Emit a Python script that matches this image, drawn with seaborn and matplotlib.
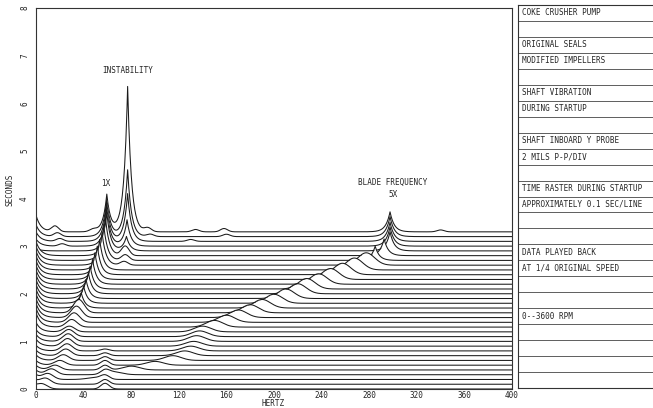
import numpy as np
import pandas as pd
import matplotlib
matplotlib.use("Agg")
import matplotlib.pyplot as plt
import seaborn as sns

# one spectrum line every 0.1 s during startup (front line = 0 s)
times = [0.0, 0.1, 0.2, 0.3, 0.4, 0.5, 0.6, 0.7, 0.8, 0.9, 1.0, 1.1, 1.2, 1.3, 1.4, 1.5, 1.6,
         1.7, 1.8, 1.9, 2.0, 2.1, 2.2, 2.3, 2.4, 2.5, 2.6, 2.7, 2.8, 2.9, 3.0, 3.1, 3.2, 3.3]

# running speed (1X) of each line, Hz
speed_hz = [5, 8, 10, 13, 16, 20, 23, 25, 26, 26.5, 27, 27.5, 28, 30, 32, 34, 36,
            38, 40, 42, 44, 45.5, 47.5, 49.5, 51.5, 53.5, 55.5, 57, 58.5, 59.5, 59.5, 59.5, 59.5, 59.5]

# peak heights (seconds of vertical scale)
amp_1x = [0.10, 0.12, 0.12, 0.12, 0.10, 0.10, 0.12, 0.14, 0.15, 0.16, 0.16, 0.15, 0.12, 0.16, 0.20, 0.24, 0.28,
          0.32, 0.36, 0.40, 0.44, 0.48, 0.52, 0.56, 0.60, 0.64, 0.68, 0.72, 0.76, 0.80, 0.80, 0.80, 0.78, 0.78]
amp_5x = [0.0, 0.0, 0.04, 0.06, 0.08, 0.08, 0.10, 0.10, 0.10, 0.10, 0.12, 0.12, 0.12, 0.14, 0.15, 0.16, 0.17,
          0.18, 0.19, 0.20, 0.21, 0.22, 0.22, 0.23, 0.24, 0.25, 0.26, 0.30, 0.35, 0.40, 0.40, 0.40, 0.42, 0.42]
inst_hz = [77] * 26 + [74, 75, 75, 76, 76.5, 77, 77, 77]
amp_inst = [0.0] * 26 + [0.08, 0.12, 0.20, 0.30, 0.55, 1.0, 1.4, 3.05]
amp_low = [0.05, 0.08, 0.10, 0.10, 0.10, 0.10, 0.12, 0.12, 0.12, 0.15, 0.15, 0.15, 0.20, 0.30, 0.30, 0.30, 0.30,
           0.30, 0.30, 0.30, 0.30, 0.30, 0.30, 0.30, 0.30, 0.30, 0.30, 0.30, 0.30, 0.05, 0.15, 0.20, 0.25, 0.35]
amp_58 = [0.12, 0.10, 0.08, 0.08, 0.10, 0.10, 0.08, 0.06, 0.04] + [0.0] * 25

# small wiggles on the last lines
bump_line = [33, 33, 33, 33, 33, 33, 32, 32, 32, 31, 31, 30]
bump_hz = [16, 48, 94, 134, 158, 340, 18, 96, 160, 20, 130, 22]
bump_amp = [0.12, 0.05, 0.08, 0.05, 0.07, 0.04, 0.08, 0.05, 0.05, 0.06, 0.04, 0.05]

panel_rows = ["COKE CRUSHER PUMP", "", "ORIGINAL SEALS", "MODIFIED IMPELLERS", "",
              "SHAFT VIBRATION", "DURING STARTUP", "", "SHAFT INBOARD Y PROBE", "2 MILS P-P/DIV", "",
              "TIME RASTER DURING STARTUP", "APPROXIMATELY 0.1 SEC/LINE", "", "",
              "DATA PLAYED BACK", "AT 1/4 ORIGINAL SPEED", "", "", "0--3600 RPM", "", "", "", ""]

freq = np.arange(0, 400.5, 0.5)


def spike(f0, h, w):
    # sharp peak for the big lines, rounded hump for the small ones
    if h >= 0.3:
        return h * np.exp(-np.abs(freq - f0) / w)
    return h * np.exp(-0.5 * ((freq - f0) / w) ** 2)


frames = []
for i, t in enumerate(times):
    y = np.full_like(freq, t)
    y += amp_low[i] * np.exp(-freq / 4.0)
    y += spike(speed_hz[i], amp_1x[i], 4.5 if amp_1x[i] < 0.3 else 3.2)
    y += spike(5 * speed_hz[i], amp_5x[i], 7.0 if i < 27 else 3.5)
    y += spike(inst_hz[i], amp_inst[i], 3.2)
    y += spike(58, amp_58[i], 3.5)
    for ln, bh, ba in zip(bump_line, bump_hz, bump_amp):
        if ln == i:
            y += spike(bh, ba, 3.0)
    frames.append(pd.DataFrame({"hz": freq, "sec": y, "line": i}))
df = pd.concat(frames, ignore_index=True)

sns.set_style("white")
plt.rcParams["font.family"] = ["DejaVu Sans Mono"]

fig = plt.figure(figsize=(6.53, 4.08), dpi=100)
ax = fig.add_axes([36 / 653, 19 / 408, 476 / 653, 381 / 408])

# hidden line removal: front lines drawn on top with white underneath
n = len(times)
for i, grp in df.groupby("line"):
    z = 10 + 2 * (n - i)
    ax.fill_between(grp["hz"], -1, grp["sec"], color="white", lw=0, zorder=z)
    sns.lineplot(data=grp, x="hz", y="sec", ax=ax, color="#1a1a1a", lw=0.75,
                 zorder=z + 1, estimator=None, sort=False)

ax.set_xlim(0, 400)
ax.set_ylim(0, 8)
ax.set_xticks(range(0, 401, 40))
ax.set_yticks(range(0, 9))
ax.set_yticklabels([str(v) for v in range(0, 9)], rotation=90, va="center")
ax.tick_params(length=0, labelsize=5.5, colors="#222222")
ax.tick_params(axis="y", pad=5)
ax.tick_params(axis="x", pad=1.5)
ax.set_xlabel("")
ax.set_ylabel("")
for s in ax.spines.values():
    s.set_color("#333333")
    s.set_linewidth(0.8)
    s.set_zorder(200)

fig.text(10 / 653, 1 - 190 / 408, "SECONDS", rotation=90, ha="center", va="center", fontsize=5.5)
fig.text(273 / 653, 1 - 404 / 408, "HERTZ", ha="center", va="center", fontsize=5.5)

ax.text(77.5, 6.68, "INSTABILITY", ha="center", va="center", fontsize=5.5, zorder=300)
ax.text(59, 4.31, "1X", ha="center", va="center", fontsize=5.5, zorder=300)
ax.text(300, 4.33, "BLADE FREQUENCY", ha="center", va="center", fontsize=5.5, zorder=300)
ax.text(300, 4.08, "5X", ha="center", va="center", fontsize=5.5, zorder=300)

# notes panel on the right
pax = fig.add_axes([518 / 653, 20 / 408, 0.3, 383 / 408])
pax.set_xlim(0, 1)
pax.set_ylim(len(panel_rows), 0)
pax.set_xticks([])
pax.set_yticks([])
for side in ["left", "top", "bottom"]:
    pax.spines[side].set_color("#333333")
    pax.spines[side].set_linewidth(0.8)
pax.spines["right"].set_visible(False)
for r in range(1, len(panel_rows)):
    pax.axhline(r, color="#444444", lw=0.6)
for r, txt in enumerate(panel_rows):
    if txt:
        pax.text(0.02, r + 0.5, txt, ha="left", va="center", fontsize=5.5)

fig.savefig("out.png", dpi=100)
